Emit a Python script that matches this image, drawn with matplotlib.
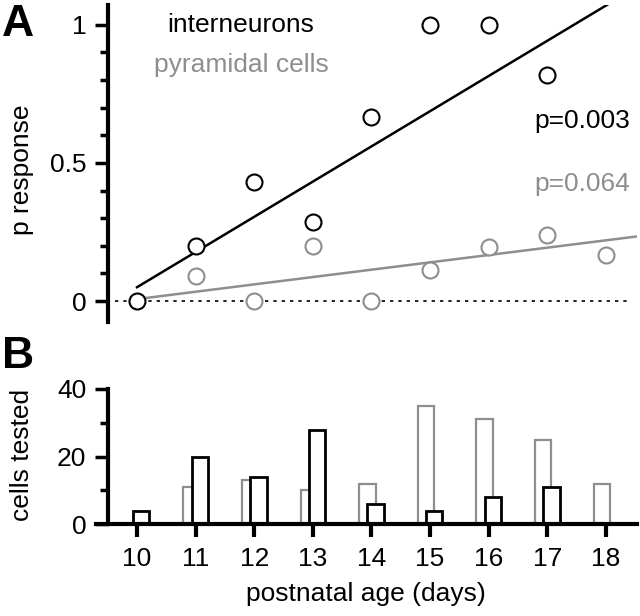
import numpy as np
import matplotlib.pyplot as plt
from matplotlib.ticker import MultipleLocator

plt.rcParams['font.family'] = ['Liberation Sans', 'DejaVu Sans']

# postnatal age (days)
days_in = [10, 11, 12, 13, 14, 15, 16, 17]
days_pyr = [11, 12, 13, 14, 15, 16, 17, 18]
# p response
p_in = [0.0, 0.2, 0.43, 0.286, 0.667, 1.0, 1.0, 0.818]
p_pyr = [0.091, 0.0, 0.2, 0.0, 0.114, 0.194, 0.24, 0.167]
# cells tested
n_in = [4, 20, 14, 28, 6, 4, 8, 11]
n_pyr = [11, 13, 10, 12, 35, 31, 25, 12]
# regression lines (intercept at day 10, slope per day)
fit_in = (0.05, 0.1275)
fit_pyr = (0.007, 0.0266)

gray = '#8e8e8e'
fs = 19

fig = plt.figure(figsize=(6.4, 6.16), dpi=100)
axA = fig.add_axes([96 / 640, 1 - 322 / 616, (637 - 96) / 640, (322 - 5) / 616])
axB = fig.add_axes([96 / 640, 1 - 524 / 616, (637 - 96) / 640, (524 - 389) / 616])

xlim = (9.30, 18.53)

# ---- panel A
axA.set_xlim(xlim)
axA.set_ylim(-0.076, 1.072)
axA.hlines(0, 9.62, 18.41, colors='black', linestyles=(0, (2, 3)), linewidth=1.2, zorder=1)
xx = np.array([10, 18.6])
axA.plot(xx, fit_in[0] + fit_in[1] * (xx - 10), color='black', lw=1.8, zorder=2)
axA.plot(xx, fit_pyr[0] + fit_pyr[1] * (xx - 10), color=gray, lw=1.8, zorder=2)
axA.plot(days_pyr, p_pyr, 'o', ms=11.5, mfc='white', mec=gray, mew=1.5, zorder=3)
axA.plot(days_in, p_in, 'o', ms=11.5, mfc='white', mec='black', mew=1.5, zorder=4)

axA.spines[['top', 'right', 'bottom']].set_visible(False)
axA.spines['left'].set_position(('data', 9.5))
axA.spines['left'].set_linewidth(3)
axA.set_xticks([])
axA.set_yticks([0, 0.5, 1])
axA.set_yticklabels(['0', '0.5', '1'])
axA.yaxis.set_minor_locator(MultipleLocator(0.1))
axA.tick_params(axis='y', which='major', length=9.5, width=2.5, labelsize=fs, pad=6)
axA.tick_params(axis='y', which='minor', length=6, width=2.5)
axA.set_ylabel('p response', fontsize=fs, va='center')
axA.yaxis.set_label_coords((22 - 96) / 541, 0.48)
axA.patch.set_alpha(0)

fig.text(241 / 640, 1 - 25 / 616, 'interneurons', fontsize=fs, ha='center', va='center', color='black')
fig.text(241 / 640, 1 - 65 / 616, 'pyramidal cells', fontsize=fs, ha='center', va='center', color=gray)
fig.text(630 / 640, 1 - 121 / 616, 'p=0.003', fontsize=fs, ha='right', va='center', color='black')
fig.text(630 / 640, 1 - 184 / 616, 'p=0.064', fontsize=fs, ha='right', va='center', color=gray)
fig.text(2 / 640, 1 - 25 / 616, 'A', fontsize=32, fontweight='bold', ha='left', va='center')
fig.text(2 / 640, 1 - 357 / 616, 'B', fontsize=32, fontweight='bold', ha='left', va='center')

# ---- panel B
axB.set_xlim(xlim)
axB.set_ylim(0, 40)
w = 0.28
axB.bar(np.array(days_pyr) - 0.07, n_pyr, width=w, facecolor='white', edgecolor=gray,
        linewidth=1.6, zorder=2)
axB.bar(np.array(days_in) + 0.07, n_in, width=w, facecolor='white', edgecolor='black',
        linewidth=2.0, zorder=3)
axB.spines[['top', 'right']].set_visible(False)
axB.spines['left'].set_position(('data', 9.5))
axB.spines['left'].set_linewidth(3)
axB.spines['bottom'].set_linewidth(3)
axB.spines['bottom'].set_zorder(4)
axB.set_yticks([0, 20, 40])
axB.yaxis.set_minor_locator(MultipleLocator(10))
axB.set_xticks(range(10, 19))
axB.tick_params(axis='y', which='major', length=9.5, width=2.5, labelsize=fs, pad=6)
axB.tick_params(axis='y', which='minor', length=6, width=2.5)
axB.tick_params(axis='x', which='major', length=9.5, width=3, labelsize=fs, pad=7)
axB.set_ylabel('cells tested', fontsize=fs, va='center')
axB.yaxis.set_label_coords((22 - 96) / 541, 0.51)
axB.set_xlabel('postnatal age (days)', fontsize=fs, va='center')
axB.xaxis.set_label_coords((366 - 96) / 541, (524 - 594) / 135)
axB.patch.set_alpha(0)

fig.savefig('out.png', dpi=100)
